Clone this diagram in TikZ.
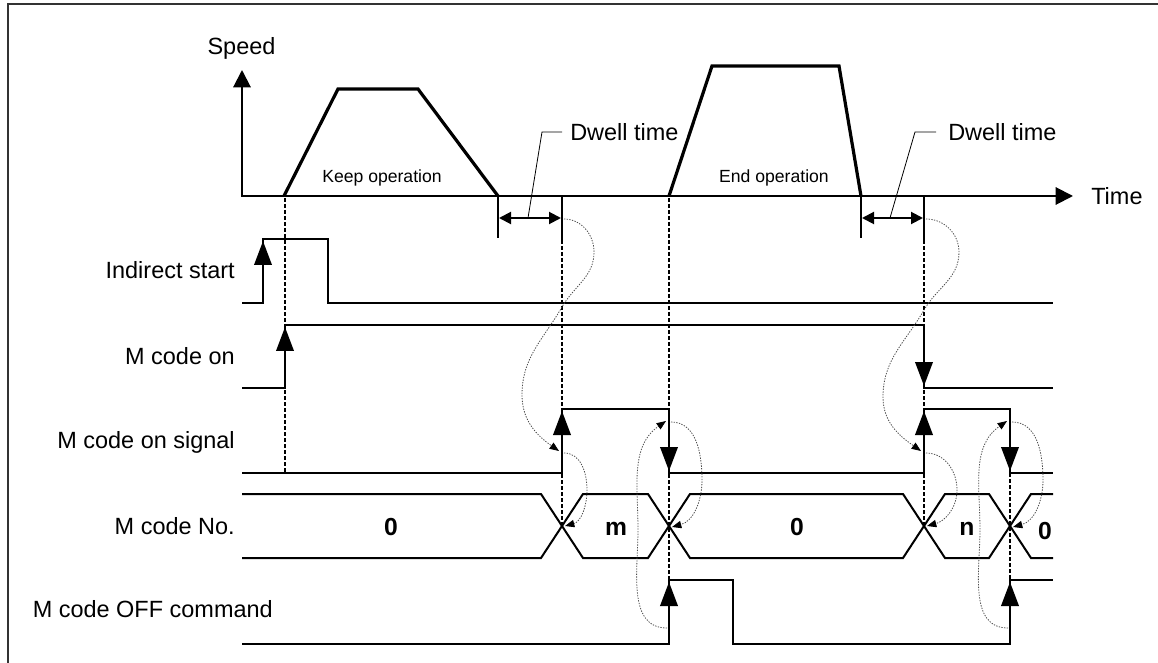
\documentclass[tikz,border=0pt]{standalone}
\usepackage{fontspec}
\setmainfont{Liberation Sans}
\usetikzlibrary{arrows.meta}
\begin{document}
\begin{tikzpicture}[x=0.75pt,y=-0.75pt,
  sig/.style={line width=1.5pt, line join=miter},
  trap/.style={line width=2.4pt, line join=miter},
  axisline/.style={line width=1.5pt, line join=miter, {Triangle[length=13pt,width=13pt]}-{Triangle[length=13pt,width=13pt]}},
  edgearr/.style={line width=2pt, -{Triangle[length=18pt,width=13pt]}},
  dwellarr/.style={line width=1.5pt, {Triangle[length=9pt,width=9pt]}-{Triangle[length=9pt,width=9pt]}},
  leader/.style={line width=0.6pt},
  guide/.style={line width=1.5pt, dash pattern=on 3pt off 1.5pt},
  curv/.style={draw=black!70, line width=0.6pt, dash pattern=on 1pt off 1pt, -{Triangle[length=7pt,width=5.5pt,color=black]}},
  lbl/.style={font=\fontsize{17.6}{20}\selectfont, inner sep=0pt},
  smalllbl/.style={font=\fontsize{13.2}{15}\selectfont, inner sep=0pt},
  val/.style={font=\bfseries\fontsize{18.5}{20}\selectfont, inner sep=0pt, anchor=base}
]
\useasboundingbox (0,0) rectangle (1158,663);
% frame
\draw[line width=0.9pt, black!80] (8,663) -- (8,4) -- (1158,4);

% axes
\draw[axisline] (242,70) -- (242,196) -- (1073,196);
\node[lbl, anchor=base] (speed) at (241.5,55) {Speed};
\node[lbl, anchor=base west] (time) at (1091,205) {Time};

% speed profiles
\draw[trap] (284,196) -- (338,89) -- (418,89) -- (498,196);
\draw[trap] (669,196) -- (712,66) -- (839,66) -- (861,196);
\node[smalllbl, anchor=base] (keep) at (382,182.5) {Keep operation};
\node[smalllbl, anchor=base] (endop) at (774,182.5) {End operation};

% dwell time 1
\draw[sig] (498,196) -- (498,238);
\draw[sig] (562,196) -- (562,240);
\draw[dwellarr] (499,218) -- (561,218);
\draw[leader] (528,218) -- (542,132) -- (562,132);
\node[lbl, anchor=base west] (dw1) at (570,140.4) {Dwell time};

% dwell time 2
\draw[sig] (861,196) -- (861,238);
\draw[sig] (924,196) -- (924,240);
\draw[dwellarr] (862,218) -- (923,218);
\draw[leader] (890,218) -- (915,132) -- (936,132);
\node[lbl, anchor=base west] (dw2) at (948,140.4) {Dwell time};

% dotted guides
\draw[guide] (285,198) -- (285,473);
\draw[guide] (562,240) -- (562,526);
\draw[guide] (669,198) -- (669,580);
\draw[guide] (924,240) -- (924,526);
\draw[guide] (1010,473) -- (1010,580);

% signal labels
\node[lbl, anchor=base east] (lis) at (235,279) {Indirect start};
\node[lbl, anchor=base east] (lmon) at (235,364) {M code on};
\node[lbl, anchor=base east] (lmos) at (235,448) {M code on signal};
\node[lbl, anchor=base east] (lmno) at (235,534) {M code No.};
\node[lbl, anchor=base east] (lmoff) at (273,617) {M code OFF command};

% Indirect start
\draw[sig] (242,303) -- (263,303) -- (263,239) -- (328,239) -- (328,303) -- (1053,303);
% M code on
\draw[sig] (242,388) -- (285,388) -- (285,325) -- (924,325) -- (924,388) -- (1053,388);
% M code on signal
\draw[sig] (242,473) -- (562,473) -- (562,409) -- (669,409) -- (669,473) -- (924,473) -- (924,409) -- (1010,409) -- (1010,473) -- (1053,473);
% M code No. bus
\draw[sig] (242,494) -- (541,494) -- (583,558) -- (648,558) -- (690,494) -- (903,494) -- (945,558) -- (989,558) -- (1031,494) -- (1053,494);
\draw[sig] (242,558) -- (541,558) -- (583,494) -- (648,494) -- (690,558) -- (903,558) -- (945,494) -- (989,494) -- (1031,558) -- (1053,558);
% M code OFF command
\draw[sig] (242,644) -- (669,644) -- (669,580) -- (733,580) -- (733,644) -- (1010,644) -- (1010,580) -- (1053,580);

% edge arrows
\draw[edgearr] (263,303) -- (263,241);
\draw[edgearr] (285,388) -- (285,327);
\draw[edgearr] (924,325) -- (924,386);
\draw[edgearr] (562,473) -- (562,411);
\draw[edgearr] (669,409) -- (669,471);
\draw[edgearr] (924,473) -- (924,411);
\draw[edgearr] (1010,409) -- (1010,471);
\draw[edgearr] (669,644) -- (669,582);
\draw[edgearr] (1010,644) -- (1010,582);

% M code values
\node[val] (v0a) at (391,535) {0};
\node[val] (vm) at (616,535) {m};
\node[val] (v0b) at (797,535) {0};
\node[val] (vn) at (967,535) {n};
\node[val] (v0c) at (1045,539) {0};

% causal curves
\draw[curv] (564,219) to[out=0,in=90] (594,252) to[out=-90,in=60] (562,307) to[out=240,in=90] (522,395) to[out=-90,in=145] (559,451);
\draw[curv] (564,453) to[out=0,in=90] (587,490) to[out=-90,in=15] (565,526);
\draw[curv] (667,628) to[out=180,in=-90] (638,530) to[out=90,in=215] (666,421);
\draw[curv] (671,422) to[out=0,in=90] (702,480) to[out=-90,in=15] (672,527);
\draw[curv] (926,219) to[out=0,in=90] (959,252) to[out=-90,in=60] (924,310) to[out=240,in=90] (883,397) to[out=-90,in=145] (921,451);
\draw[curv] (926,453) to[out=0,in=90] (957,490) to[out=-90,in=15] (927,526);
\draw[curv] (1008,628) to[out=180,in=-90] (980,530) to[out=90,in=215] (1007,421);
\draw[curv] (1012,422) to[out=0,in=90] (1043,480) to[out=-90,in=15] (1013,527);
\end{tikzpicture}
\end{document}
